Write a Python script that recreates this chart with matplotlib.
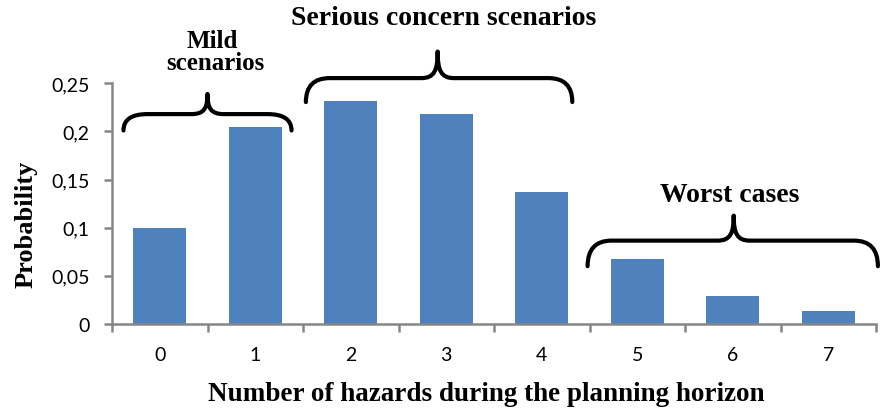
import matplotlib
matplotlib.use("Agg")
import matplotlib.pyplot as plt
from matplotlib.path import Path
from matplotlib.patches import PathPatch

# Probability of each hazard count over the planning horizon
hazards = [0, 1, 2, 3, 4, 5, 6, 7]
probs = [0.100, 0.205, 0.232, 0.218, 0.1375, 0.067, 0.029, 0.0135]

y_ticks = [0, 0.05, 0.1, 0.15, 0.2, 0.25]
y_labels = ["0", "0,05", "0,1", "0,15", "0,2", "0,25"]

# Scenario groups: (label lines, brace left, brace right, brace tip x)
groups = [
    (["Mild", "scenarios"], -0.38, 1.38, 0.50),
    (["Serious concern scenarios"], 1.53, 4.32, 2.91),
    (["Worst cases"], 4.48, 7.52, 6.01),
]

bar_color = "#4F81BD"
axis_gray = "#868686"
serif = "Liberation Serif"


def brace(ax, x0, x1, xm, ye, yh, yt, rx=0.25, tx=0.17):
    # curly brace opening downward, cusp pointing up at xm
    dy = yt - yh
    verts = [
        (x0, ye), (x0, yh), (x0 + rx, yh),
        (xm - tx, yh),
        (xm - tx * 0.2, yh), (xm, yh + dy * 0.3), (xm, yt),
        (xm, yh + dy * 0.3), (xm + tx * 0.2, yh), (xm + tx, yh),
        (x1 - rx, yh),
        (x1, yh), (x1, ye),
    ]
    codes = [Path.MOVETO, Path.CURVE3, Path.CURVE3,
             Path.LINETO,
             Path.CURVE4, Path.CURVE4, Path.CURVE4,
             Path.CURVE4, Path.CURVE4, Path.CURVE4,
             Path.LINETO,
             Path.CURVE3, Path.CURVE3]
    patch = PathPatch(Path(verts, codes), facecolor="none", edgecolor="black",
                      lw=3, capstyle="round", joinstyle="round", clip_on=False)
    ax.add_patch(patch)


fig = plt.figure(figsize=(8.81, 4.10), dpi=100)
ax = fig.add_axes([112 / 881, 1 - 325 / 410, 764 / 881, 240.7 / 410])

ax.bar(hazards, probs, width=0.55, color=bar_color, zorder=2)

ax.set_xlim(-0.5, 7.5)
ax.set_ylim(0, 0.25)
ax.set_yticks(y_ticks)
ax.set_yticklabels(y_labels)
ax.set_xticks(hazards)
ax.set_xticklabels([str(h) for h in hazards])
ax.set_xticks([h - 0.5 for h in hazards] + [7.5], minor=True)

for s in ["top", "right"]:
    ax.spines[s].set_visible(False)
for s in ["left", "bottom"]:
    ax.spines[s].set_color(axis_gray)
    ax.spines[s].set_linewidth(1.8)

ax.tick_params(axis="x", which="major", length=0, pad=16)
ax.tick_params(axis="x", which="minor", length=6, width=1.8, color=axis_gray, direction="out")
ax.tick_params(axis="y", which="major", length=6, width=1.8, color=axis_gray, direction="out", pad=10)
for lab in ax.get_xticklabels() + ax.get_yticklabels():
    lab.set_fontfamily("Lato")
    lab.set_fontsize(14)

ax.set_xlabel("Number of hazards during the planning horizon",
              fontfamily=serif, fontweight="bold", fontsize=19.5)
ax.xaxis.set_label_coords((486 - 112) / 764, (325 - 401) / 240.7)
ax.xaxis.label.set_va("baseline")
ax.set_ylabel("Probability", fontfamily=serif, fontweight="bold", fontsize=19)
ax.yaxis.set_label_coords((26 - 112) / 764, 0.42)
ax.yaxis.label.set_va("center")

# braces and group labels
brace(ax, groups[0][1], groups[0][2], groups[0][3], 0.201, 0.218, 0.239)
brace(ax, groups[1][1], groups[1][2], groups[1][3], 0.2305, 0.2554, 0.283)
brace(ax, groups[2][1], groups[2][2], groups[2][3], 0.060, 0.0866, 0.1126)

label_style = dict(fontfamily=serif, fontweight="bold", ha="center", va="baseline",
                   clip_on=False)
ax.text(0.55, 0.288, groups[0][0][0], fontsize=18, **label_style)
ax.text(0.58, 0.265, groups[0][0][1], fontsize=18, **label_style)
ax.text(2.97, 0.312, groups[1][0][0], fontsize=20, **label_style)
ax.text(5.97, 0.128, groups[2][0][0], fontsize=20, **label_style)

fig.savefig("out.png", dpi=100)
